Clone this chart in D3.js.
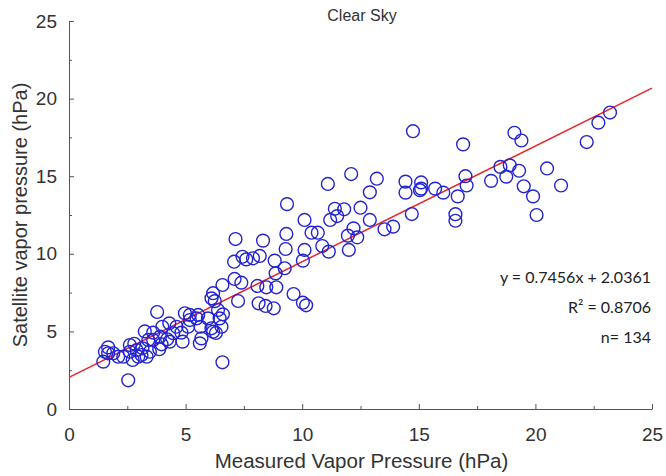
<!DOCTYPE html>
<html>
<head>
<meta charset="utf-8">
<script src="https://cdn.jsdelivr.net/npm/d3@7"></script>
<style>
  html, body { margin: 0; padding: 0; background: #fff; }
  svg { display: block; }
  .tick text { font-family: "Liberation Sans", Arial, sans-serif; }
</style>
</head>
<body>
<svg id="chart" width="666" height="476"></svg>
<script>
// Measured vs satellite vapor pressure (hPa), clear-sky cases
const measured = [
  1.47, 1.54, 1.68, 1.68, 1.9, 2.11, 2.33, 2.54, 2.61, 2.61,
  2.73, 2.9, 2.97, 3.11, 3.15, 3.33, 3.4, 3.47, 3.61, 3.61,
  3.78, 3.87, 3.97, 3.9, 4.21, 4.3, 4.32, 4.47, 4.61, 4.82,
  4.87, 5.11, 5.18, 5.47, 5.64, 5.68, 5.96, 6.11, 6.18, 6.46,
  6.54, 6.58, 6.39, 6.18, 6.25, 6.58, 7.25, 7.1, 7.39, 7.08,
  7.14, 7.44, 7.6, 7.89, 8.18, 8.32, 8.08, 8.46, 8.89, 8.13,
  8.43, 8.78, 8.82, 8.86, 9.25, 9.29, 9.32, 9.35, 9.63, 10.03,
  10.03, 10.17, 10.1, 10.1, 10.4, 10.67, 10.86, 11.14, 11.1, 11.2,
  11.4, 11.5, 11.8, 11.96, 12.0, 12.1, 12.2, 12.36, 12.5, 12.9,
  12.9, 13.2, 13.53, 13.9, 14.43, 14.43, 14.7, 14.75, 15.05, 15.1,
  15.1, 15.7, 16.05, 16.57, 16.57, 16.67, 16.9, 17.0, 17.05, 18.1,
  18.5, 18.75, 18.9, 19.1, 19.3, 19.4, 19.5, 19.9, 20.05, 20.5,
  21.1, 22.2, 22.7, 23.2, 4.97, 5.54, 5.18, 5.61, 6.6, 6.11,
  3.25, 2.8, 4.0, 6.3
];
const satellite = [
  3.05, 3.69, 3.97, 3.59, 3.59, 3.37, 3.37, 1.85, 4.12, 3.69,
  3.16, 3.8, 3.37, 3.48, 3.91, 3.37, 4.45, 3.69, 4.92, 4.45,
  6.25, 3.85, 4.17, 4.66, 4.49, 5.52, 4.34, 4.88, 5.3, 4.92,
  4.34, 5.3, 6.06, 5.84, 5.3, 4.55, 5.84, 5.2, 4.98, 5.84,
  5.3, 3.01, 6.38, 7.46, 6.95, 7.99, 6.96, 8.38, 8.14, 9.49,
  10.95, 9.81, 9.64, 9.71, 9.86, 10.85, 7.93, 7.84, 7.84, 6.81,
  6.64, 6.49, 9.56, 8.74, 9.07, 10.31, 11.28, 13.2, 7.41, 9.56,
  6.85, 6.68, 12.18, 10.25, 11.36, 11.36, 10.5, 10.14, 14.5, 12.18,
  12.9, 12.43, 12.87, 11.17, 10.25, 15.14, 11.64, 11.06, 12.97, 12.18,
  13.96, 14.84, 11.58, 11.75, 14.65, 13.94, 12.56, 17.9, 14.1, 14.6,
  14.2, 14.2, 13.94, 12.55, 12.13, 13.7, 17.05, 15.0, 14.4, 14.7,
  15.6, 14.97, 15.7, 17.8, 15.35, 17.3, 14.35, 13.7, 12.5, 15.5,
  14.4, 17.2, 18.45, 19.1, 6.17, 6.06, 5.73, 4.23, 6.1, 7.13,
  5.0, 4.2, 5.3, 4.9
];

// Linear fit reported on the chart
const fitSlope = 0.7456;
const fitIntercept = 2.0361;
const fitR2 = 0.8706;

const majorTicks = [0, 5, 10, 15, 20, 25];
const minorTicks = [2.5, 7.5, 12.5, 17.5, 22.5];

const chartTitle = "Clear Sky";
const xTitle = "Measured Vapor Pressure (hPa)";
const yTitle = "Satellite vapor pressure (hPa)";

const svg = d3.select("#chart");
const margin = { left: 69, right: 14, top: 21, bottom: 67 };
const W = 666, H = 476;

const x = d3.scaleLinear().domain([0, 25]).range([margin.left, W - margin.right]);
const y = d3.scaleLinear().domain([0, 25]).range([H - margin.bottom, margin.top]);

const axisColor = "#555";
const labelFont = '"Liberation Sans", Arial, sans-serif';

// x axis: major ticks with labels, minor ticks between, all pointing inward
const gx = svg.append("g").attr("transform", `translate(0,${y(0)})`);
gx.call(d3.axisBottom(x).tickValues(majorTicks).tickSizeInner(-5).tickSizeOuter(0).tickPadding(19).tickFormat(d3.format("d")));
gx.append("g").call(d3.axisBottom(x).tickValues(minorTicks).tickSizeInner(-3).tickSizeOuter(0).tickFormat(""))
  .select(".domain").remove();

const gy = svg.append("g").attr("transform", `translate(${x(0)},0)`);
gy.call(d3.axisLeft(y).tickValues(majorTicks).tickSizeInner(-5).tickSizeOuter(0).tickPadding(12).tickFormat(d3.format("d")));
gy.append("g").call(d3.axisLeft(y).tickValues(minorTicks).tickSizeInner(-3).tickSizeOuter(0).tickFormat(""))
  .select(".domain").remove();

svg.selectAll(".domain, .tick line").attr("stroke", axisColor).attr("stroke-width", 1);
svg.selectAll(".tick text")
  .attr("font-size", 19)
  .attr("font-family", labelFont)
  .attr("fill", "#333");

// Fit line
svg.append("line")
  .attr("x1", x(0)).attr("y1", y(fitIntercept))
  .attr("x2", x(25)).attr("y2", y(fitSlope * 25 + fitIntercept))
  .attr("stroke", "#e8262a")
  .attr("stroke-width", 1.5);

// Observations
svg.append("g")
  .selectAll("circle")
  .data(d3.zip(measured, satellite))
  .join("circle")
  .attr("cx", d => x(d[0]))
  .attr("cy", d => y(d[1]))
  .attr("r", 6.4)
  .attr("fill", "none")
  .attr("stroke", "#2323d2")
  .attr("stroke-width", 1.4);

// Titles
svg.append("text")
  .attr("x", 362).attr("y", 21)
  .attr("text-anchor", "middle")
  .attr("font-family", labelFont)
  .attr("font-size", 16)
  .attr("fill", "#333")
  .text(chartTitle);

svg.append("text")
  .attr("x", (x(0) + x(25)) / 2 + 1).attr("y", 468)
  .attr("text-anchor", "middle")
  .attr("font-family", labelFont)
  .attr("font-size", 20.5)
  .attr("fill", "#333")
  .text(xTitle);

svg.append("text")
  .attr("transform", `translate(27,${(y(0) + y(25)) / 2}) rotate(-90)`)
  .attr("text-anchor", "middle")
  .attr("font-family", labelFont)
  .attr("font-size", 20)
  .attr("fill", "#333")
  .text(yTitle);

// Regression annotation
const eqFont = 'Lato, "Open Sans", sans-serif';
const ann = svg.append("g")
  .attr("font-family", eqFont)
  .attr("font-size", 16)
  .attr("fill", "#222")
  .attr("text-anchor", "end");
ann.append("text").attr("x", 651).attr("y", 283)
  .text(`y = ${fitSlope}x + ${fitIntercept}`);
ann.append("text").attr("x", 651).attr("y", 313)
  .text(`R² = ${fitR2}`);
ann.append("text").attr("x", 651).attr("y", 343)
  .text(`n= ${measured.length}`);
</script>
</body>
</html>
